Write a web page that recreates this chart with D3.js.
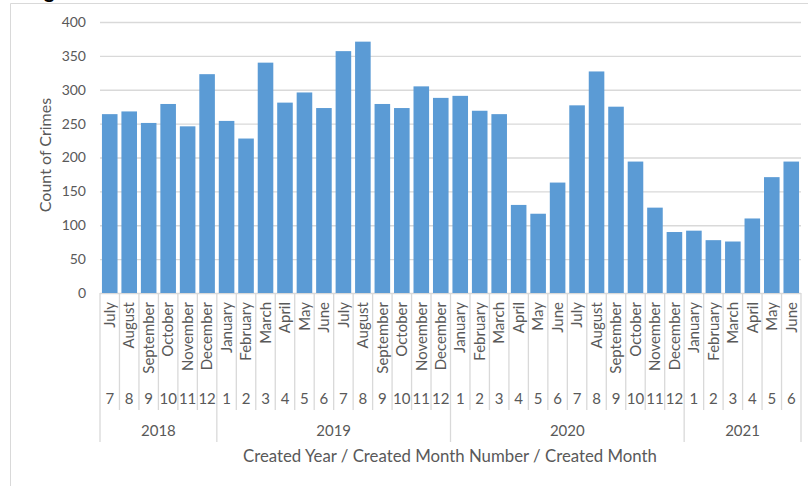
<!DOCTYPE html>
<html>
<head>
<meta charset="utf-8">
<script src="https://cdn.jsdelivr.net/npm/d3@7"></script>
<style>
  body { margin: 0; background: #fff; }
  text { font-family: Lato, "Open Sans", sans-serif; fill: #595959; }
</style>
</head>
<body>
<svg id="chart" width="808" height="486"></svg>
<script>
// data
const catYear = ["2018","2018","2018","2018","2018","2018",
    "2019","2019","2019","2019","2019","2019","2019","2019","2019","2019","2019","2019",
    "2020","2020","2020","2020","2020","2020","2020","2020","2020","2020","2020","2020",
    "2021","2021","2021","2021","2021","2021"];
const catMonthNum = [7,8,9,10,11,12, 1,2,3,4,5,6,7,8,9,10,11,12, 1,2,3,4,5,6,7,8,9,10,11,12, 1,2,3,4,5,6];
const catMonth = ["July","August","September","October","November","December",
    "January","February","March","April","May","June","July","August","September","October","November","December",
    "January","February","March","April","May","June","July","August","September","October","November","December",
    "January","February","March","April","May","June"];
const counts = [264, 268, 251, 279, 246, 323,
    254, 228, 340, 281, 296, 273, 357, 371, 279, 273, 305, 288,
    291, 269, 264, 130, 117, 163, 277, 327, 275, 194, 126, 90,
    92, 78, 76, 110, 171, 194];
const yTicks = [0, 50, 100, 150, 200, 250, 300, 350, 400];

const svg = d3.select("#chart"),
    margin = {top: 22, right: 7, bottom: 193, left: 100},
    width = +svg.attr("width"),
    height = +svg.attr("height");
const grey = "#d9d9d9";

// outer chart frame (only top and left show)
svg.append("path")
    .attr("d", "M10.5,486V3.5H808")
    .attr("fill", "none")
    .attr("stroke", grey);

// title is cut off by the top edge in the reference, only a descender shows
svg.append("text")
    .attr("x", 44).attr("y", -2)
    .style("font-size", "20px").style("font-weight", "bold").style("fill", "#000")
    .text("g");

const idx = d3.range(counts.length);

const x = d3.scaleBand()
    .domain(idx)
    .range([margin.left, width - margin.right])
    .paddingInner(0.2)
    .paddingOuter(0.1);

const y = d3.scaleLinear()
    .domain([0, 400])
    .range([height - margin.bottom, margin.top]);

const x0 = x.range()[0], step = x.step();
const edge = i => x0 + i * step;

// y axis + gridlines
const yAxis = svg.append("g")
    .attr("transform", `translate(${margin.left},0)`)
    .call(d3.axisLeft(y).tickValues(yTicks).tickSize(-(x.range()[1] - x0)).tickPadding(14));
yAxis.select(".domain").remove();
yAxis.selectAll("line").attr("stroke", grey).attr("stroke-width", 1.3);
yAxis.selectAll("text").style("font-size", "14px").style("fill", "#595959");

// bars
svg.append("g")
    .selectAll("rect")
    .data(idx)
    .enter().append("rect")
    .attr("x", d => x(d))
    .attr("y", d => y(counts[d]))
    .attr("width", x.bandwidth())
    .attr("height", d => y(0) - y(counts[d]))
    .attr("fill", "#5b9bd5");

// category separators, longer at year boundaries
const yearStarts = idx.filter(i => i === 0 || catYear[i] !== catYear[i - 1]);
const bounds = d3.range(counts.length + 1);
svg.append("g")
    .selectAll("line")
    .data(bounds)
    .enter().append("line")
    .attr("x1", d => edge(d)).attr("x2", d => edge(d))
    .attr("y1", y(0))
    .attr("y2", d => (d === counts.length || yearStarts.includes(d)) ? 442 : 410)
    .attr("stroke", grey)
    .attr("stroke-width", 1.3);

// month names
svg.append("g")
    .selectAll("text")
    .data(idx)
    .enter().append("text")
    .attr("transform", d => `translate(${x(d) + x.bandwidth() / 2},302) rotate(-90)`)
    .attr("text-anchor", "end")
    .attr("dy", "0.35em")
    .style("font-size", "15px")
    .text(d => catMonth[d]);

// month numbers
svg.append("g")
    .selectAll("text")
    .data(idx)
    .enter().append("text")
    .attr("x", d => x(d) + x.bandwidth() / 2)
    .attr("y", 399)
    .attr("dy", "0.35em")
    .attr("text-anchor", "middle")
    .style("font-size", "15px")
    .text(d => catMonthNum[d]);

// years
const yearGroups = d3.groups(idx, i => catYear[i]);
svg.append("g")
    .selectAll("text")
    .data(yearGroups)
    .enter().append("text")
    .attr("x", d => (edge(d[1][0]) + edge(d[1][d[1].length - 1] + 1)) / 2)
    .attr("y", 431)
    .attr("dy", "0.35em")
    .attr("text-anchor", "middle")
    .style("font-size", "15px")
    .text(d => d[0]);

// axis titles
svg.append("text")
    .attr("transform", "translate(45,155) rotate(-90)")
    .attr("text-anchor", "middle")
    .attr("dy", "0.35em")
    .style("font-size", "16px")
    .text("Count of Crimes");

svg.append("text")
    .attr("x", 450)
    .attr("y", 456)
    .attr("dy", "0.35em")
    .attr("text-anchor", "middle")
    .style("font-size", "16.8px")
    .text("Created Year / Created Month Number / Created Month");
</script>
</body>
</html>
